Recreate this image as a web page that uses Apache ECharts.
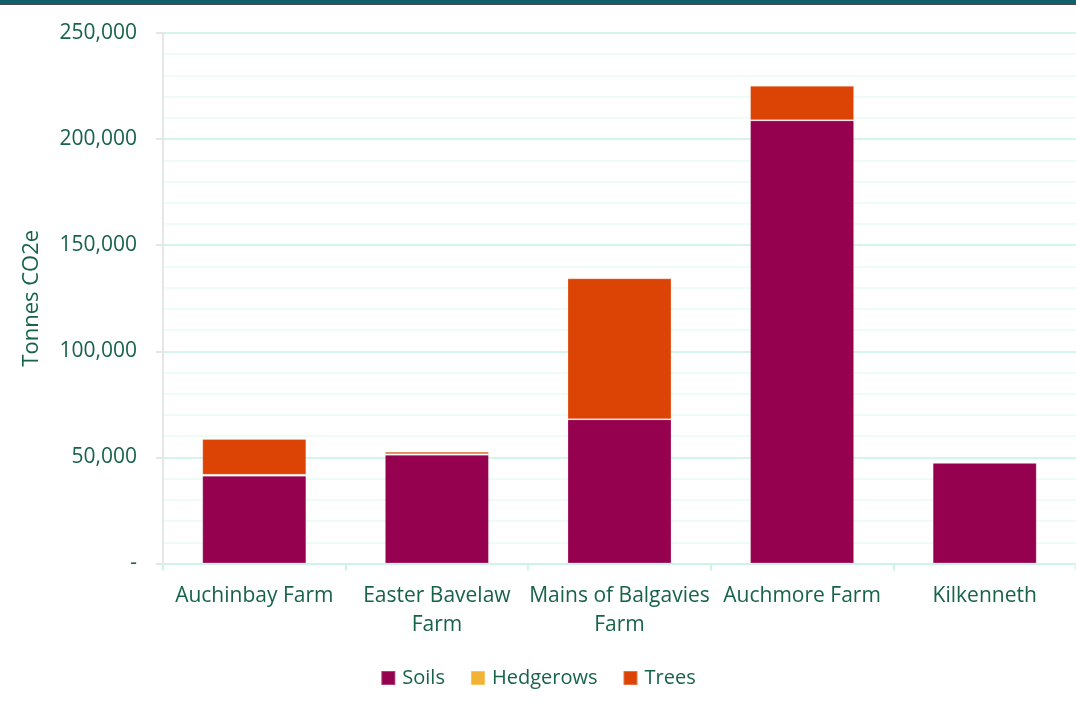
<!DOCTYPE html>
<html>
<head>
<meta charset="utf-8">
<script src="https://cdn.jsdelivr.net/npm/echarts@6/dist/echarts.min.js"></script>
<style>
html,body{margin:0;padding:0;background:#fff;}
#topbar{position:absolute;left:0;top:0;width:1076px;height:3px;background:#0f5f6c;border-bottom:2px solid #4a4a4a;}
#chart{position:absolute;left:0;top:0;width:1076px;height:712px;}
</style>
</head>
<body>
<div id="chart"></div>
<div id="topbar"></div>
<script>
const categories = ['Auchinbay Farm', 'Easter Bavelaw\nFarm', 'Mains of Balgavies\nFarm', 'Auchmore Farm', 'Kilkenneth'];
const soils = [41400, 51300, 67950, 208850, 47500];
const hedgerows = [400, 200, 0, 0, 0];
const trees = [16900, 1200, 66450, 16300, 0];
const seriesNames = ['Soils', 'Hedgerows', 'Trees'];
const colors = ['#95004f', '#f2b233', '#dc4405'];

const textColor = '#176349';
const font = 'Open Sans';

const chart = echarts.init(document.getElementById('chart'));
function mk(name, data, color) {
  return {
    name: name, type: 'bar', stack: 'total', data: data, barWidth: '57%',
    itemStyle: { color: color, borderColor: 'rgba(255,255,255,0.25)', borderWidth: 1 },
    emphasis: { disabled: true }
  };
}
chart.setOption({
  animation: false,
  textStyle: { fontFamily: font },
  color: colors,
  grid: { left: 163, right: 0, top: 33, bottom: 148.5, containLabel: false },
  legend: {
    bottom: 19, left: 'center', icon: 'rect', itemWidth: 14, itemHeight: 14, itemGap: 25,
    textStyle: { color: textColor, fontSize: 20, fontFamily: font, padding: [0, 0, 0, 2] },
    data: seriesNames
  },
  xAxis: {
    type: 'category', data: categories,
    axisLine: { lineStyle: { color: '#cdf4e6', width: 2 } },
    axisTick: { show: true, length: 7, lineStyle: { color: '#cdf4e6', width: 2 } },
    axisLabel: { color: textColor, fontSize: 21, fontFamily: font, margin: 18, lineHeight: 29, interval: 0 }
  },
  yAxis: {
    type: 'value', min: 0, max: 250000, interval: 50000,
    name: 'Tonnes CO2e', nameLocation: 'middle', nameGap: 120, nameRotate: 90,
    nameTextStyle: { color: textColor, fontSize: 22, fontFamily: font },
    axisLine: { show: true, lineStyle: { color: '#e6e6e6', width: 2 } },
    axisTick: { show: true, length: 7, lineStyle: { color: '#e6e6e6', width: 2 } },
    axisLabel: {
      color: textColor, fontSize: 21, fontFamily: font, margin: 26,
      formatter: v => v === 0 ? '-' : v.toLocaleString('en-US')
    },
    splitLine: { show: true, lineStyle: { color: '#d3f6e9', width: 2 } },
    minorTick: { show: false, splitNumber: 5 },
    minorSplitLine: { show: true, lineStyle: { color: '#eefcf6', width: 2 } }
  },
  series: [
    mk(seriesNames[0], soils, colors[0]),
    mk(seriesNames[1], hedgerows, colors[1]),
    mk(seriesNames[2], trees, colors[2])
  ]
});
</script>
</body>
</html>
